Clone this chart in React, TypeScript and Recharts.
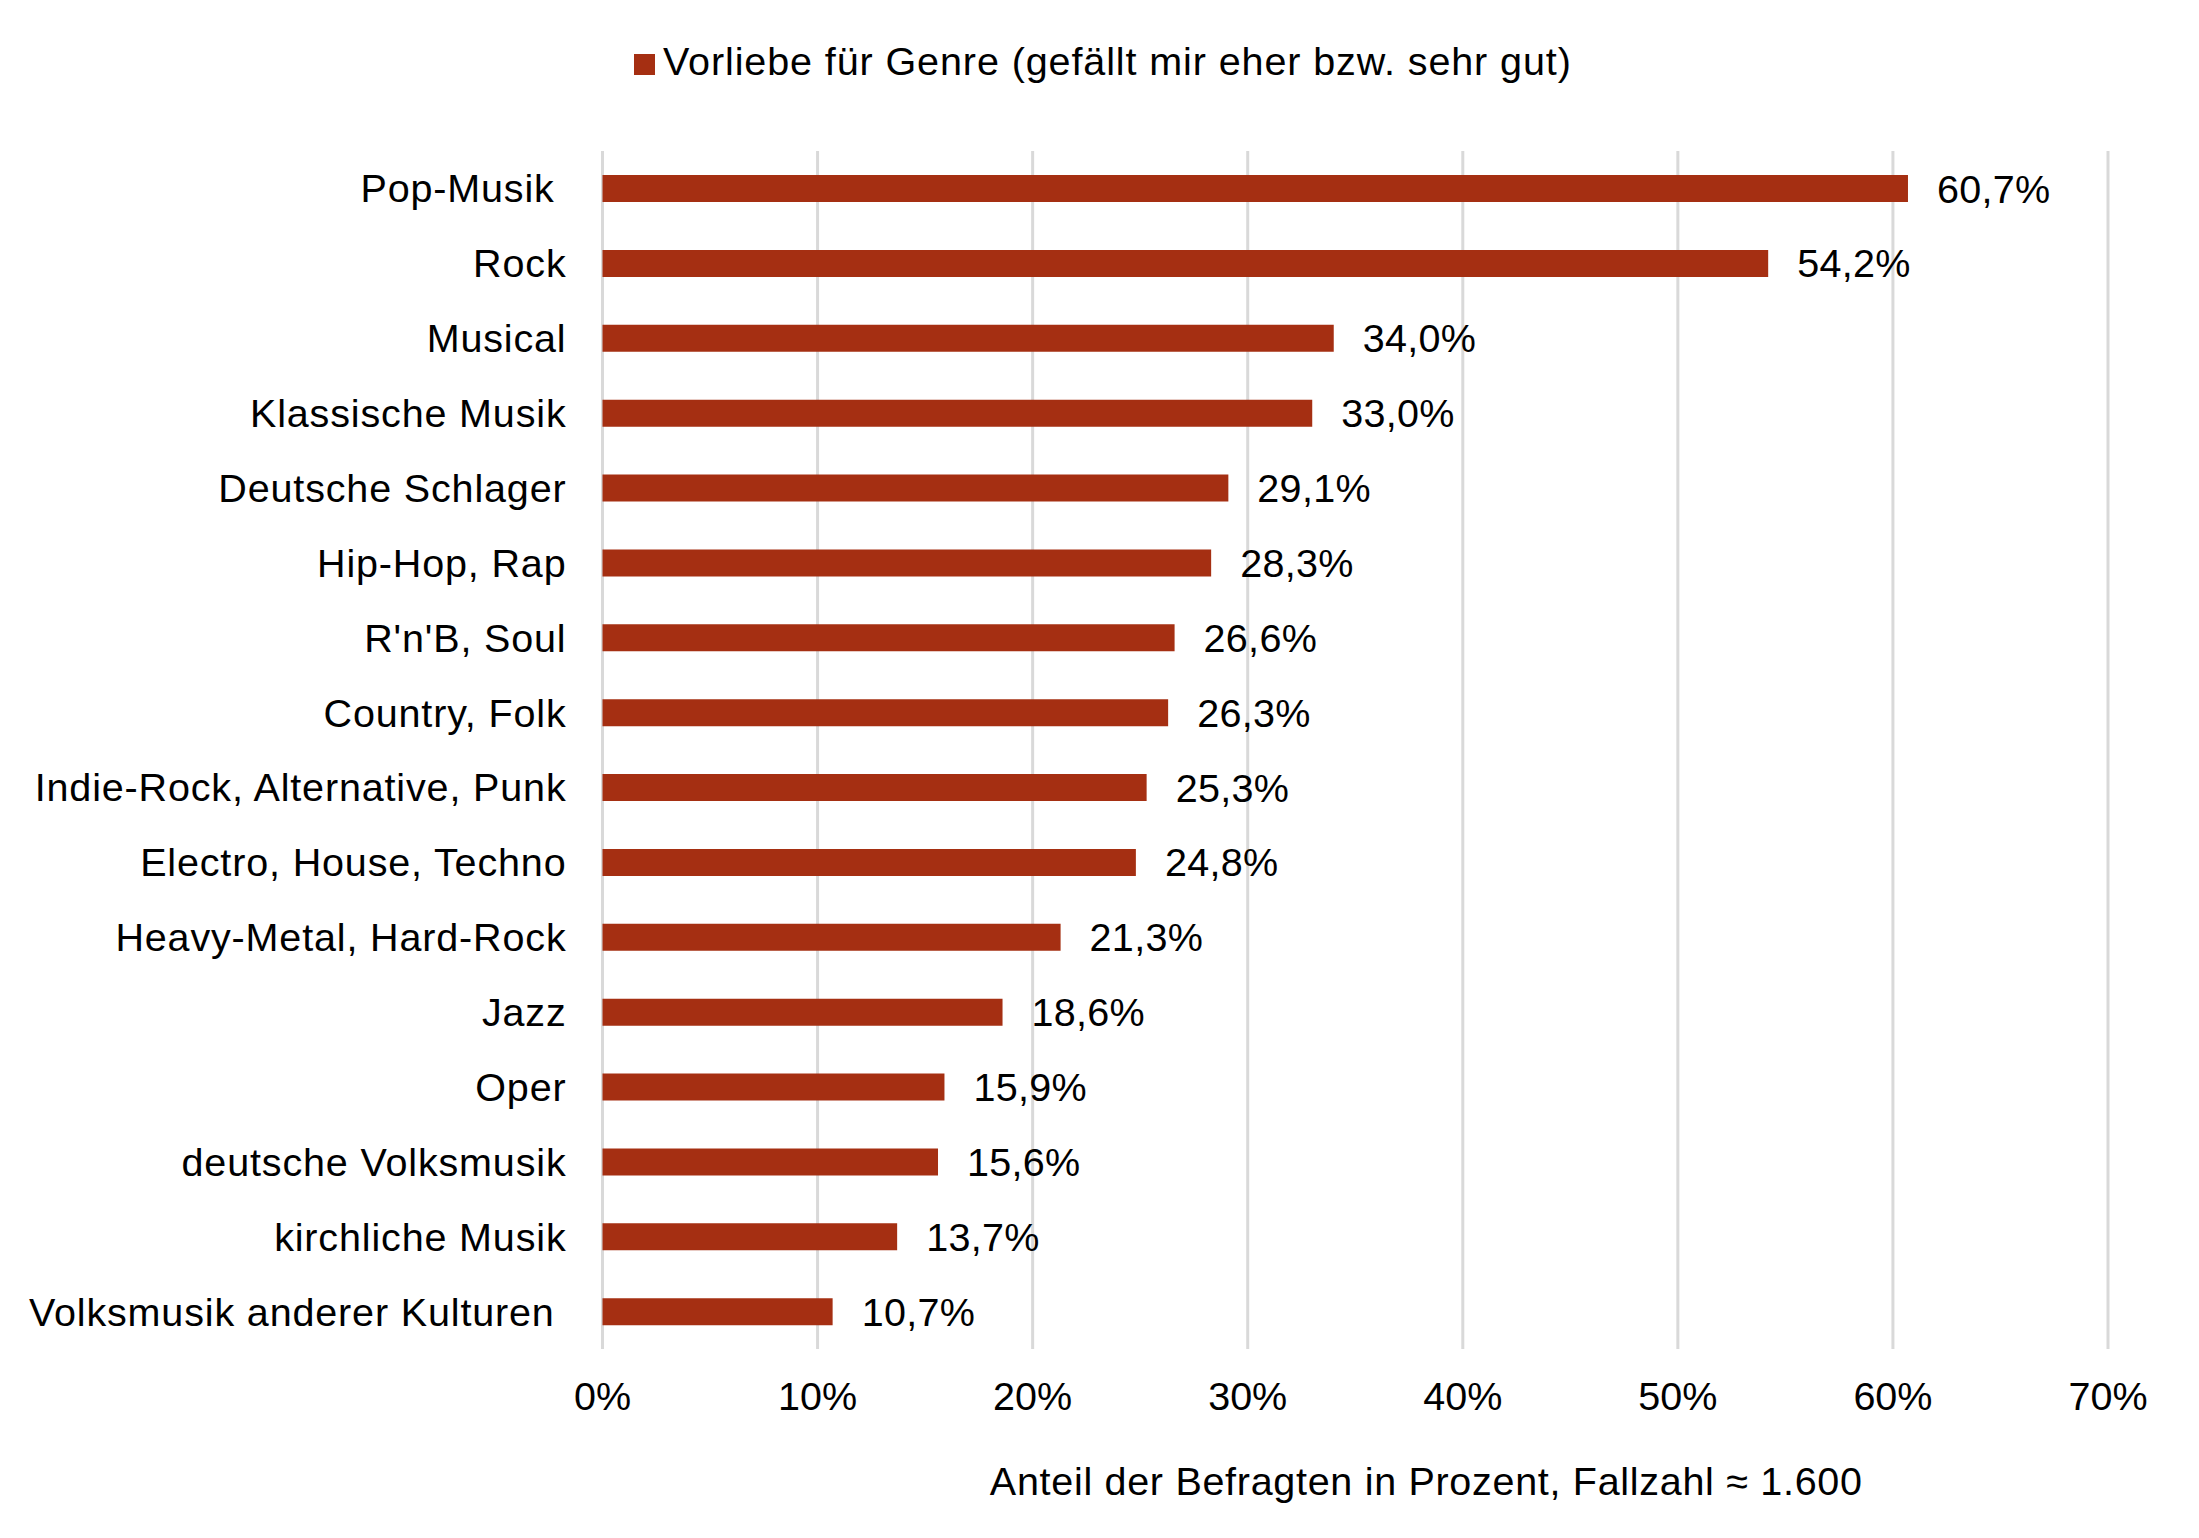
import React from 'react';
import { BarChart, Bar, XAxis, YAxis, CartesianGrid, Legend, LabelList, Label } from 'recharts';

const genres = [
  'Pop-Musik\u00a0',
  'Rock',
  'Musical',
  'Klassische Musik',
  'Deutsche Schlager',
  'Hip-Hop, Rap',
  "R'n'B, Soul",
  'Country, Folk',
  'Indie-Rock, Alternative, Punk',
  'Electro, House, Techno',
  'Heavy-Metal, Hard-Rock',
  'Jazz',
  'Oper',
  'deutsche Volksmusik',
  'kirchliche Musik',
  'Volksmusik anderer Kulturen\u00a0',
];

const shares = [60.7, 54.2, 34.0, 33.0, 29.1, 28.3, 26.6, 26.3, 25.3, 24.8, 21.3, 18.6, 15.9, 15.6, 13.7, 10.7];

const xTicks = [0, 10, 20, 30, 40, 50, 60, 70];

const seriesName = 'Vorliebe für Genre (gefällt mir eher bzw. sehr gut)';
const axisTitle = 'Anteil der Befragten in Prozent, Fallzahl ≈ 1.600';

const data = genres.map((name, i) => ({ name, value: shares[i] }));

const BAR_COLOR = '#A52F12';
const FONT = '"Liberation Sans", Arial, sans-serif';
const FS = 39.5;

const LegendBox = () => (
  <div style={{ paddingLeft: 634, fontFamily: FONT, fontSize: FS, lineHeight: '44px', color: '#000', whiteSpace: 'nowrap', letterSpacing: 0.9 }}>
    <span style={{ display: 'inline-block', width: 21, height: 21, background: BAR_COLOR, marginRight: 8 }} />
    {seriesName}
  </div>
);

const AxisTitle = (props: any) => {
  const vb = props.viewBox || {};
  return (
    <text x={vb.x + vb.width / 2 + 71} y={vb.y + 146} textAnchor="middle" fontSize={FS} fill="#000" letterSpacing={0.7}>
      {axisTitle}
    </text>
  );
};

export default function App() {
  return (
    <div style={{ position: 'absolute', left: 0, top: 0, fontFamily: FONT, background: '#fff' }}>
      <BarChart
        width={2199}
        height={1538}
        data={data}
        layout="vertical"
        margin={{ top: 151, right: 91, bottom: 0, left: 0 }}
      >
        <CartesianGrid horizontal={false} stroke="#d9d9d9" strokeWidth={3} />
        <XAxis
          type="number"
          domain={[0, 70]}
          ticks={xTicks}
          tickFormatter={(v) => `${v}%`}
          axisLine={false}
          tickLine={false}
          tickMargin={27}
          height={189}
          tick={{ fill: '#000', fontSize: FS }}
          interval={0}
        >
          <Label content={<AxisTitle />} />
        </XAxis>
        <YAxis
          type="category"
          dataKey="name"
          width={602.5}
          axisLine={false}
          tickLine={false}
          tickMargin={30}
          tick={{ fill: '#000', fontSize: FS, letterSpacing: 0.85 }}
          interval={0}
        />
        <Legend
          layout="horizontal"
          verticalAlign="middle"
          content={<LegendBox />}
          wrapperStyle={{ top: 38.6, left: 0, width: 2199 }}
        />
        <Bar dataKey="value" name={seriesName} fill={BAR_COLOR} barSize={27} isAnimationActive={false}>
          <LabelList
            dataKey="value"
            position="right"
            offset={29}
            fill="#000"
            fontSize={FS}
            letterSpacing={0.3}
            formatter={(v: any) => `${Number(v).toFixed(1).replace('.', ',')}%`}
          />
        </Bar>
      </BarChart>
    </div>
  );
}
